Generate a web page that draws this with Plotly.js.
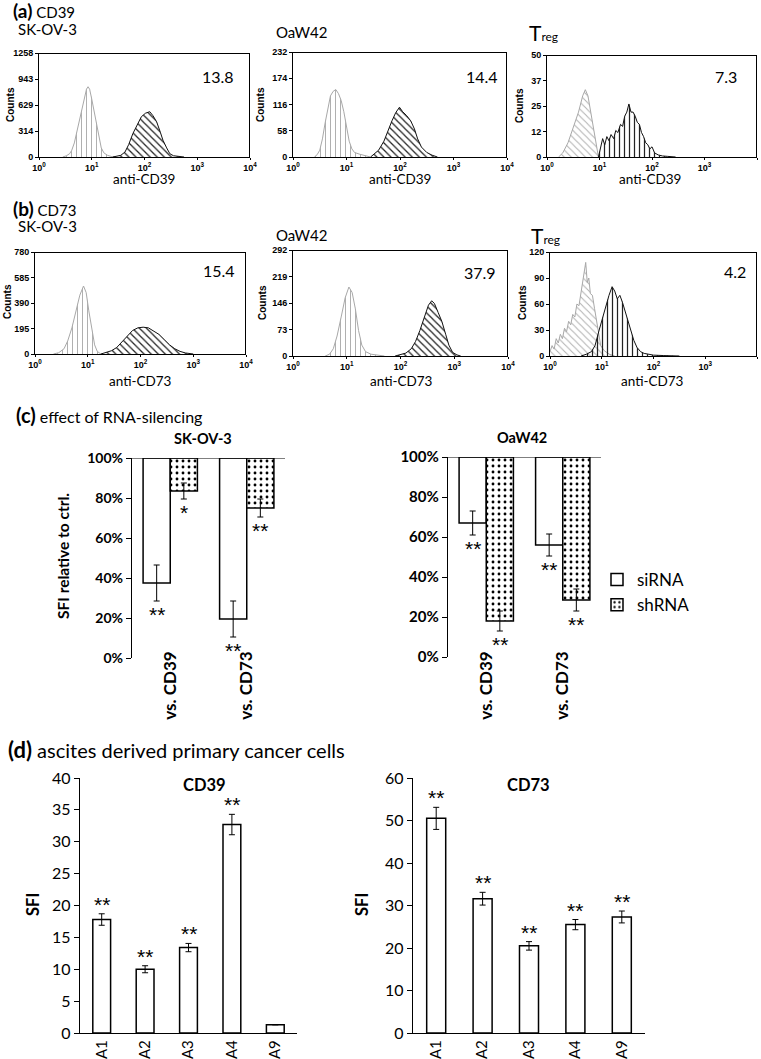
<!DOCTYPE html>
<html>
<head>
<meta charset="utf-8">
<script src="https://cdn.plot.ly/plotly-3.0.1.min.js"></script>
<style>body{margin:0;background:#fff}#fig{width:761px;height:1059px}</style>
</head>
<body>
<div id="fig"></div>
<script>
var W = 761, H = 1059;
var FONT = 'Lato, "Open Sans", sans-serif';
var ARIAL = '"Liberation Sans", Arial, sans-serif';

// ---------- histograms: x is log10 of fluorescence (decades 0..4) ----------
var decades = [0, 1, 2, 3, 4];
var decadeText = ['10<sup>0</sup>', '10<sup>1</sup>', '10<sup>2</sup>', '10<sup>3</sup>', '10<sup>4</sup>'];

// (a) SK-OV-3, CD39
var h1IsoX = [0.45,0.52,0.58,0.62,0.67,0.71,0.76,0.81,0.86,0.9,0.93,0.96,1.0,1.04,1.08,1.13,1.18,1.23,1.3,1.38,1.45];
var h1IsoY = [0,15,40,80,170,280,420,560,720,820,850,820,700,560,420,250,110,50,20,5,0];
var h1X = [1.4,1.45,1.55,1.63,1.7,1.78,1.86,1.94,2.02,2.1,2.16,2.23,2.3,2.35,2.42,2.48,2.55,2.65,2.75];
var h1Y = [0,5,20,60,150,284,390,487,530,548,500,426,300,203,110,40,15,5,0];
var h1Ticks = [0, 314, 629, 943, 1258];

// (a) OaW42, CD39
var h2IsoX = [0.4,0.45,0.5,0.55,0.6,0.65,0.7,0.75,0.8,0.85,0.9,0.95,1.0,1.05,1.1,1.15,1.25,1.35,1.45];
var h2IsoY = [0,5,15,40,75,110,135,145,149,140,125,100,65,35,18,10,6,3,0];
var h2X = [1.45,1.5,1.6,1.7,1.78,1.85,1.92,1.99,2.05,2.12,2.2,2.27,2.33,2.4,2.5,2.6,2.7];
var h2Y = [0,5,15,35,60,80,98,110,100,92,80,62,40,22,10,4,0];
var h2Ticks = [0, 58, 116, 174, 232];

// (a) Treg, CD39
var h3IsoX = [0.22,0.3,0.4,0.5,0.6,0.68,0.73,0.78,0.85,0.92,0.98];
var h3IsoY = [0,2,7,14,22,30,33,30,20,8,0];
var h3X = [0.98,1.02,1.06,1.1,1.14,1.18,1.22,1.27,1.31,1.35,1.4,1.44,1.48,1.52,1.56,1.6,1.64,1.68,1.72,1.76,1.8,1.84,1.88,1.92,1.96,2.0,2.05,2.12,2.2,2.3,2.45];
var h3Y = [0,5,9,6,10,8,11,9,13,12,16,15,20,22,26,22,22,20,17,16,12,10,7,6,4,5,2,1,0.5,0.3,0];
var h3Ticks = [0, 12, 25, 37, 50];

// (b) SK-OV-3, CD73
var h4IsoX = [0.35,0.45,0.55,0.62,0.7,0.78,0.85,0.92,0.97,1.02,1.08,1.13,1.18,1.25];
var h4IsoY = [0,10,40,100,200,330,450,520,470,330,170,70,20,0];
var h4X = [1.25,1.35,1.45,1.55,1.65,1.75,1.85,1.95,2.05,2.15,2.25,2.35,2.45,2.55,2.65,2.75,2.85,2.95,3.0];
var h4Y = [0,10,25,50,95,140,180,200,205,200,175,150,110,70,40,20,8,2,0];
var h4Ticks = [0, 195, 390, 585, 780];

// (b) OaW42, CD73
var h5IsoX = [0.6,0.68,0.75,0.82,0.9,0.97,1.04,1.1,1.16,1.22,1.28,1.35,1.45,1.6,1.7];
var h5IsoY = [0,5,20,55,110,160,190,175,130,70,30,12,5,2,0];
var h5X = [1.9,2.0,2.1,2.2,2.28,2.36,2.44,2.52,2.58,2.63,2.7,2.77,2.84,2.9,2.97,3.05,3.12];
var h5Y = [0,3,8,20,40,70,105,140,152,145,120,95,60,30,10,3,0];
var h5Ticks = [0, 73, 146, 219, 292];

// (b) Treg, CD73
var h6IsoX = [0.0,0.04,0.08,0.12,0.16,0.2,0.24,0.28,0.32,0.36,0.4,0.44,0.48,0.52,0.56,0.6,0.63,0.66,0.69,0.72,0.75,0.78,0.82,0.86,0.9,0.94,0.98,1.05,1.15,1.25];
var h6IsoY = [5,12,8,20,15,25,20,32,28,40,36,48,45,60,58,75,85,95,108,85,90,72,70,55,40,22,12,6,2,0];
var h6X = [0.6,0.7,0.8,0.87,0.95,1.02,1.08,1.14,1.2,1.25,1.3,1.35,1.4,1.45,1.5,1.56,1.62,1.68,1.75,1.82,1.9,2.0,2.2,2.5];
var h6Y = [0,2,5,12,30,45,58,70,80,75,66,70,62,52,40,28,18,10,5,3,2,1,0.5,0];
var h6Ticks = [0, 30, 60, 90, 120];

var hLabels = ['13.8', '14.4', '7.3', '15.4', '37.9', '4.2'];

// ---------- (c) effect of RNA-silencing, % SFI relative to control ----------
var cCats = ['vs. CD39', 'vs. CD73'];
var skSi = [37.5, 19.5], skSiErr = [9, 9], skSiSig = ['**', '**'];
var skSh = [83.5, 75], skShErr = [4, 4.5], skShSig = ['*', '**'];
var oaSi = [67, 56], oaSiErr = [6, 5.5], oaSiSig = ['**', '**'];
var oaSh = [18, 28.5], oaShErr = [5, 5.5], oaShSig = ['**', '**'];

// ---------- (d) ascites derived primary cancer cells ----------
var dCats = ['A1', 'A2', 'A3', 'A4', 'A9'];
var cd39Val = [17.8, 10.0, 13.4, 32.7, 1.3], cd39Err = [0.9, 0.55, 0.65, 1.6, 0];
var cd39Sig = ['**', '**', '**', '**', ''];
var cd73Val = [50.5, 31.6, 20.5, 25.5, 27.3], cd73Err = [2.6, 1.5, 1.0, 1.2, 1.4];
var cd73Sig = ['**', '**', '**', '**', '**'];

function xd(a, b) { return [a / W, b / W]; }
function yd(top, bot) { return [1 - bot / H, 1 - top / H]; }

var data = [];
var layout = {
    width: W, height: H,
    margin: {l: 0, r: 0, t: 0, b: 0, autoexpand: false},
    paper_bgcolor: '#fff', plot_bgcolor: 'rgba(0,0,0,0)',
    barmode: 'group', bargap: 0.29, bargroupgap: 0,
    showlegend: true,
    legend: {x: 597 / W, y: 1 - 562 / H, xanchor: 'left', yanchor: 'top',
             font: {family: FONT, size: 17, color: '#000'}, bgcolor: 'rgba(0,0,0,0)', tracegroupgap: 0},
    annotations: [], shapes: []
};

function note(text, px, py, size, extra) {
    var a = {text: text, x: px / W, y: 1 - py / H, xref: 'paper', yref: 'paper', showarrow: false,
             font: {family: FONT, size: size, color: '#000'}, xanchor: 'left', yanchor: 'middle'};
    for (var k in extra) a[k] = extra[k];
    layout.annotations.push(a);
}

// one flow histogram panel
function hist(n, box, isoX, isoY, posX, posY, ticks, isoShape, posShape) {
    var xs = n == 1 ? '' : String(n);
    var ymax = ticks[ticks.length - 1];
    var xmax = decades[decades.length - 1];
    var tf = {family: ARIAL, size: 9, color: '#000', weight: 'bold'};
    layout['xaxis' + xs] = {domain: xd(box[0], box[1]), anchor: 'y' + xs, range: [decades[0], xmax],
        tickvals: decades, ticktext: decadeText, showline: true, linecolor: '#000', linewidth: 1,
        ticks: 'outside', ticklen: 2, tickcolor: '#000', showgrid: false, zeroline: false, tickfont: tf};
    layout['yaxis' + xs] = {domain: yd(box[2], box[3]), anchor: 'x' + xs, range: [0, ymax],
        tickvals: [0, ymax / 4, ymax / 2, ymax * 3 / 4, ymax], ticktext: ticks.map(String),
        showline: true, linecolor: '#000', linewidth: 1,
        ticks: 'outside', ticklen: 3, tickcolor: '#000', showgrid: false, zeroline: false, tickfont: tf};
    data.push({type: 'scatter', x: isoX, y: isoY, xaxis: 'x' + xs, yaxis: 'y' + xs, mode: 'lines',
        fill: 'tozeroy', fillcolor: 'rgba(0,0,0,0)', line: {color: '#a8a8a8', width: 1},
        fillpattern: {shape: isoShape, fgcolor: '#b0b0b0', bgcolor: 'rgba(0,0,0,0)', size: 5, solidity: 0.2},
        showlegend: false, hoverinfo: 'skip'});
    data.push({type: 'scatter', x: posX, y: posY, xaxis: 'x' + xs, yaxis: 'y' + xs, mode: 'lines',
        fill: 'tozeroy', fillcolor: 'rgba(0,0,0,0)', line: {color: '#111', width: 1},
        fillpattern: {shape: posShape, fgcolor: '#222', bgcolor: 'rgba(0,0,0,0)', size: 5, solidity: 0.25},
        showlegend: false, hoverinfo: 'skip'});
    // top and right edge of the frame, along the axis range corners (half is clipped -> 1px)
    data.push({type: 'scatter', x: [decades[0], xmax, xmax], y: [ymax, ymax, 0],
        xaxis: 'x' + xs, yaxis: 'y' + xs, mode: 'lines', line: {color: '#000', width: 2},
        showlegend: false, hoverinfo: 'skip'});
}

hist(1, [39, 250, 53, 157], h1IsoX, h1IsoY, h1X, h1Y, h1Ticks, '|', '\\');
hist(2, [293, 507, 52, 157], h2IsoX, h2IsoY, h2X, h2Y, h2Ticks, '|', '\\');
hist(3, [547, 757, 55, 157], h3IsoX, h3IsoY, h3X, h3Y, h3Ticks, '\\', '|');
hist(4, [35, 246, 252, 354], h4IsoX, h4IsoY, h4X, h4Y, h4Ticks, '|', '\\');
hist(5, [293, 508, 250, 356], h5IsoX, h5IsoY, h5X, h5Y, h5Ticks, '|', '\\');
hist(6, [550, 757, 252, 356], h6IsoX, h6IsoY, h6X, h6Y, h6Ticks, '\\', '|');

// histogram texts
note('<b><span style="font-size:19px">(a)</span></b> CD39', 11, 11, 15);
note('SK-OV-3', 16, 29, 15);
note('OaW42', 274, 32, 15);
note('T<span style="font-size:12px">reg</span>', 527, 32, 21);
note('<b><span style="font-size:19px">(b)</span></b> CD73', 11, 208, 15);
note('SK-OV-3', 16, 226, 15);
note('OaW42', 274, 235, 15);
note('T<span style="font-size:12px">reg</span>', 529, 235, 21);
var numPos = [[218, 77], [482, 77], [726, 77], [219, 270], [480, 272], [735, 271]];
for (var i = 0; i < hLabels.length; i++) {
    note(hLabels[i], numPos[i][0], numPos[i][1], 16, {xanchor: 'center'});
}
var xlabPos = [[144, 179, 'anti-CD39'], [400, 179, 'anti-CD39'], [650, 179, 'anti-CD39'],
               [140, 381, 'anti-CD73'], [401, 381, 'anti-CD73'], [652, 381, 'anti-CD73']];
xlabPos.forEach(function(p) { note(p[2], p[0], p[1], 13.5, {xanchor: 'center'}); });
var countPos = [[11, 105], [261, 105], [520, 106], [7, 302], [262, 303], [522, 303]];
countPos.forEach(function(p) {
    note('<b>Counts</b>', p[0], p[1], 10, {xanchor: 'center', textangle: -90, font: {family: ARIAL, size: 10, color: '#000'}});
});

// ---------- (c) bar panels hanging from the 100% line ----------
function silencing(n, box, labPy, si, siErr, siSig, sh, shErr, shSig, legend, tickSize) {
    var xs = String(n);
    layout['xaxis' + xs] = {domain: xd(box[0], box[1]), anchor: 'free', position: 1 - labPy / H,
        type: 'category', range: [-0.5, 1.5], showline: false, ticks: '', tickangle: -90,
        showgrid: false, zeroline: false, tickfont: {family: FONT, size: 17, color: '#000', weight: 'bold'}};
    layout['yaxis' + xs] = {domain: yd(box[2], box[3]), anchor: 'x' + xs, range: [0, 100], dtick: 20,
        ticksuffix: '%', showline: true, linecolor: '#000', linewidth: 1.2, ticks: 'outside', ticklen: 5,
        tickcolor: '#000', showgrid: false, zeroline: false,
        tickfont: {family: FONT, size: tickSize, color: '#000', weight: 'bold'}};
    layout.shapes.push({type: 'line', xref: 'x' + xs + ' domain', yref: 'y' + xs, x0: 0, x1: 1, y0: 100, y1: 100,
        line: {color: '#000', width: 1.2}});
    data.push({type: 'bar', name: 'siRNA', legendgroup: 'si', showlegend: legend, x: cCats,
        y: si.map(function(v) { return v - 100; }), base: 100, xaxis: 'x' + xs, yaxis: 'y' + xs,
        marker: {color: '#fff', line: {color: '#000', width: 1.5}},
        error_y: {type: 'data', array: siErr, color: '#000', thickness: 1, width: 3}, hoverinfo: 'skip'});
    data.push({type: 'bar', name: 'shRNA', legendgroup: 'sh', showlegend: legend, x: cCats,
        y: sh.map(function(v) { return v - 100; }), base: 100, xaxis: 'x' + xs, yaxis: 'y' + xs,
        marker: {color: '#fff', line: {color: '#000', width: 1.5},
                 pattern: {shape: '.', fgcolor: '#000', bgcolor: '#fff', size: 6, solidity: 0.18}},
        error_y: {type: 'data', array: shErr, color: '#000', thickness: 1, width: 3}, hoverinfo: 'skip'});
    var off = (1 - layout.bargap) / 4;
    var sf = {family: ARIAL, size: 21, color: '#000'};
    for (var i = 0; i < cCats.length; i++) {
        layout.annotations.push({xref: 'x' + xs, yref: 'y' + xs, x: i - off, y: si[i] - siErr[i], text: siSig[i],
            showarrow: false, yanchor: 'top', font: sf});
        layout.annotations.push({xref: 'x' + xs, yref: 'y' + xs, x: i + off, y: sh[i] - shErr[i], text: shSig[i],
            showarrow: false, yanchor: 'top', font: sf});
    }
}

silencing(7, [132, 285, 458, 658], 647, skSi, skSiErr, skSiSig, skSh, skShErr, skShSig, true, 14);
silencing(8, [448, 601, 457, 657], 647, oaSi, oaSiErr, oaSiSig, oaSh, oaShErr, oaShSig, false, 15);

note('<b><span style="font-size:20px">(c)</span></b> effect of RNA-silencing', 14, 415, 16);
note('<b>SK-OV-3</b>', 203, 439, 14.5, {xanchor: 'center'});
note('<b>OaW42</b>', 522, 437, 14.5, {xanchor: 'center'});
note('<b>SFI relative to ctrl.</b>', 63, 556, 15.5, {xanchor: 'center', textangle: -90});

// ---------- (d) SFI of primary cells ----------
function sfiPanel(n, box, ymax, dtick, vals, errs, sigs) {
    var xs = String(n);
    layout['xaxis' + xs] = {domain: xd(box[0], box[1]), anchor: 'y' + xs, type: 'category', range: [-0.5, 4.5],
        showline: true, linecolor: '#000', linewidth: 1.2, ticks: '', tickangle: -90, showgrid: false, zeroline: false,
        tickfont: {family: FONT, size: 15, color: '#000'}};
    layout['yaxis' + xs] = {domain: yd(box[2], box[3]), anchor: 'x' + xs, range: [0, ymax], dtick: dtick,
        showline: true, linecolor: '#000', linewidth: 1.2, ticks: 'outside', ticklen: 5, tickcolor: '#000',
        showgrid: false, zeroline: false, tickfont: {family: FONT, size: 16, color: '#000'}};
    data.push({type: 'bar', x: dCats, y: vals, width: 0.41, xaxis: 'x' + xs, yaxis: 'y' + xs, showlegend: false,
        marker: {color: '#fff', line: {color: '#000', width: 1.5}},
        error_y: {type: 'data', array: errs, color: '#000', thickness: 1, width: 3}, hoverinfo: 'skip'});
    for (var i = 0; i < dCats.length; i++) {
        if (!sigs[i]) continue;
        layout.annotations.push({xref: 'x' + xs, yref: 'y' + xs, x: i, y: vals[i] + errs[i], text: sigs[i],
            showarrow: false, yanchor: 'bottom', yshift: -4, font: {family: ARIAL, size: 21, color: '#000'}});
    }
}

sfiPanel(9, [80, 297, 778, 1033], 40, 5, cd39Val, cd39Err, cd39Sig);
sfiPanel(10, [413, 645, 778, 1033], 60, 10, cd73Val, cd73Err, cd73Sig);

note('<b><span style="font-size:22px">(d)</span></b> ascites derived primary cancer cells', 6, 749, 20);
note('<b>CD39</b>', 204, 785, 16.5, {xanchor: 'center'});
note('<b>CD73</b>', 528, 785, 16.5, {xanchor: 'center'});
note('<b>SFI</b>', 33, 905, 16.5, {xanchor: 'center', textangle: -90});
note('<b>SFI</b>', 362, 905, 16.5, {xanchor: 'center', textangle: -90});

Plotly.newPlot('fig', data, layout, {displayModeBar: false, staticPlot: true});
</script>
</body>
</html>
